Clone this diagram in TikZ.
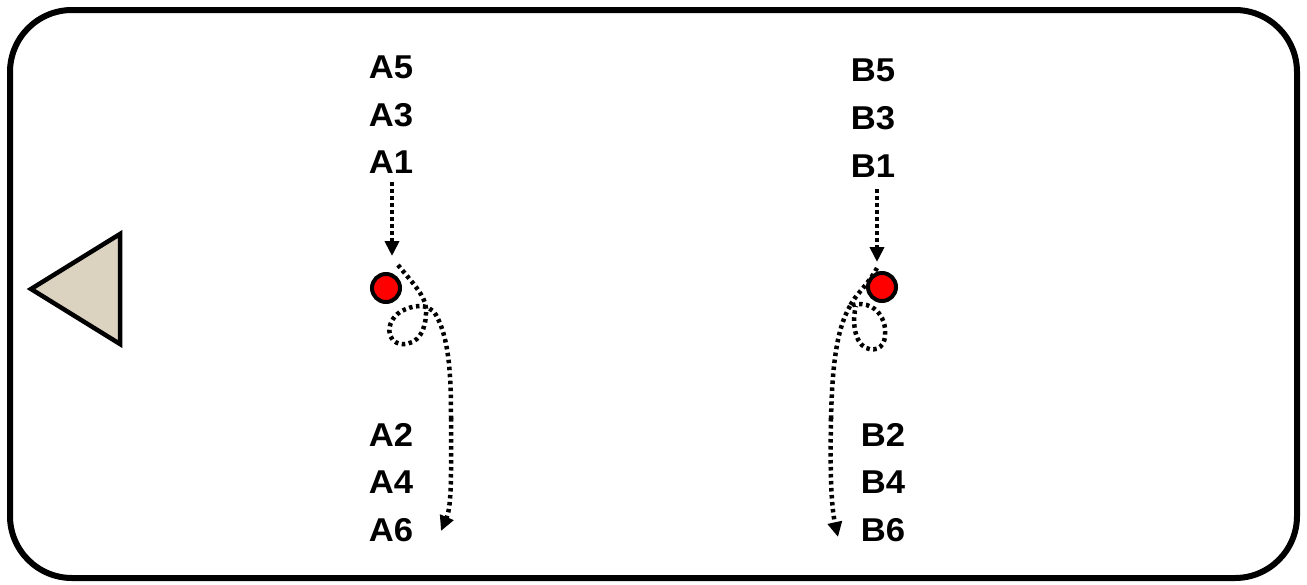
\documentclass[tikz,border=0pt]{standalone}
\usepackage{fontspec}
\setmainfont{Liberation Sans}
\usetikzlibrary{arrows.meta}
\begin{document}
\begin{tikzpicture}[x=1pt,y=-1pt,
  lbl/.style={font=\fontsize{33}{33}\selectfont\bfseries, inner sep=0pt, anchor=center, xscale=1.05},
  dots/.style={line width=4.5pt, dash pattern=on 3.5pt off 3.5pt},
  arr/.style={dots, -{Triangle[length=15pt,width=14pt]}},
  ball/.style={circle, draw=black, line width=4pt, fill=red, minimum size=28pt, inner sep=0pt}]
\useasboundingbox (0,0) rectangle (1307,584);
% frame
\draw[line width=6pt, rounded corners=62pt] (10,10) rectangle (1297,578);
% triangle
\draw[line width=4.5pt, line join=miter, fill={rgb,255:red,220;green,210;blue,192}] (120,234) -- (120,344) -- (31,289) -- cycle;
% labels A
\node[lbl] (a5) at (391,67) {A5};
\node[lbl] (a3) at (391,115) {A3};
\node[lbl] (a1) at (391,162) {A1};
\node[lbl] (a2) at (391,435) {A2};
\node[lbl] (a4) at (391,482) {A4};
\node[lbl] (a6) at (391,530) {A6};
% labels B
\node[lbl] (b5) at (873,70) {B5};
\node[lbl] (b3) at (873,118) {B3};
\node[lbl] (b1) at (873,166) {B1};
\node[lbl] (b2) at (883,435) {B2};
\node[lbl] (b4) at (883,482) {B4};
\node[lbl] (b6) at (883,530) {B6};
% balls
\node[ball] (pa) at (386,288) {};
\node[ball] (pb) at (882,287) {};
% coordinates
\coordinate (a1e) at (392,182);
\coordinate (a1t) at (392,256);
\coordinate (b1e) at (877,189);
\coordinate (b1t) at (877,262);
\coordinate (as) at (398,265);
\coordinate (ae) at (441,531);
\coordinate (bs) at (877,268);
\coordinate (be) at (838,537);
% arrows
\draw[arr] (a1e) -- (a1t);
\draw[arr] (b1e) -- (b1t);
% A path with loop
\draw[dots] (as) .. controls (410,280) and (425,295) .. (426,308)
  .. controls (427,330) and (418,345) .. (402,344)
  .. controls (386,343) and (385,322) .. (400,312)
  .. controls (412,305) and (428,302) .. (436,315)
  .. controls (450,340) and (451,380) .. (451,420);
\draw[arr] (451,418) .. controls (451,470) and (452,505) .. (ae);
% B path with loop
\draw[dots] (bs) .. controls (868,285) and (855,295) .. (850,306)
  .. controls (865,300) and (882,308) .. (885,328)
  .. controls (887,348) and (876,352) .. (866,348)
  .. controls (854,342) and (852,320) .. (856,306);
\draw[dots] (850,306) .. controls (836,330) and (832,370) .. (831,420);
\draw[arr] (831,418) .. controls (830,470) and (831,505) .. (be);
\end{tikzpicture}
\end{document}
